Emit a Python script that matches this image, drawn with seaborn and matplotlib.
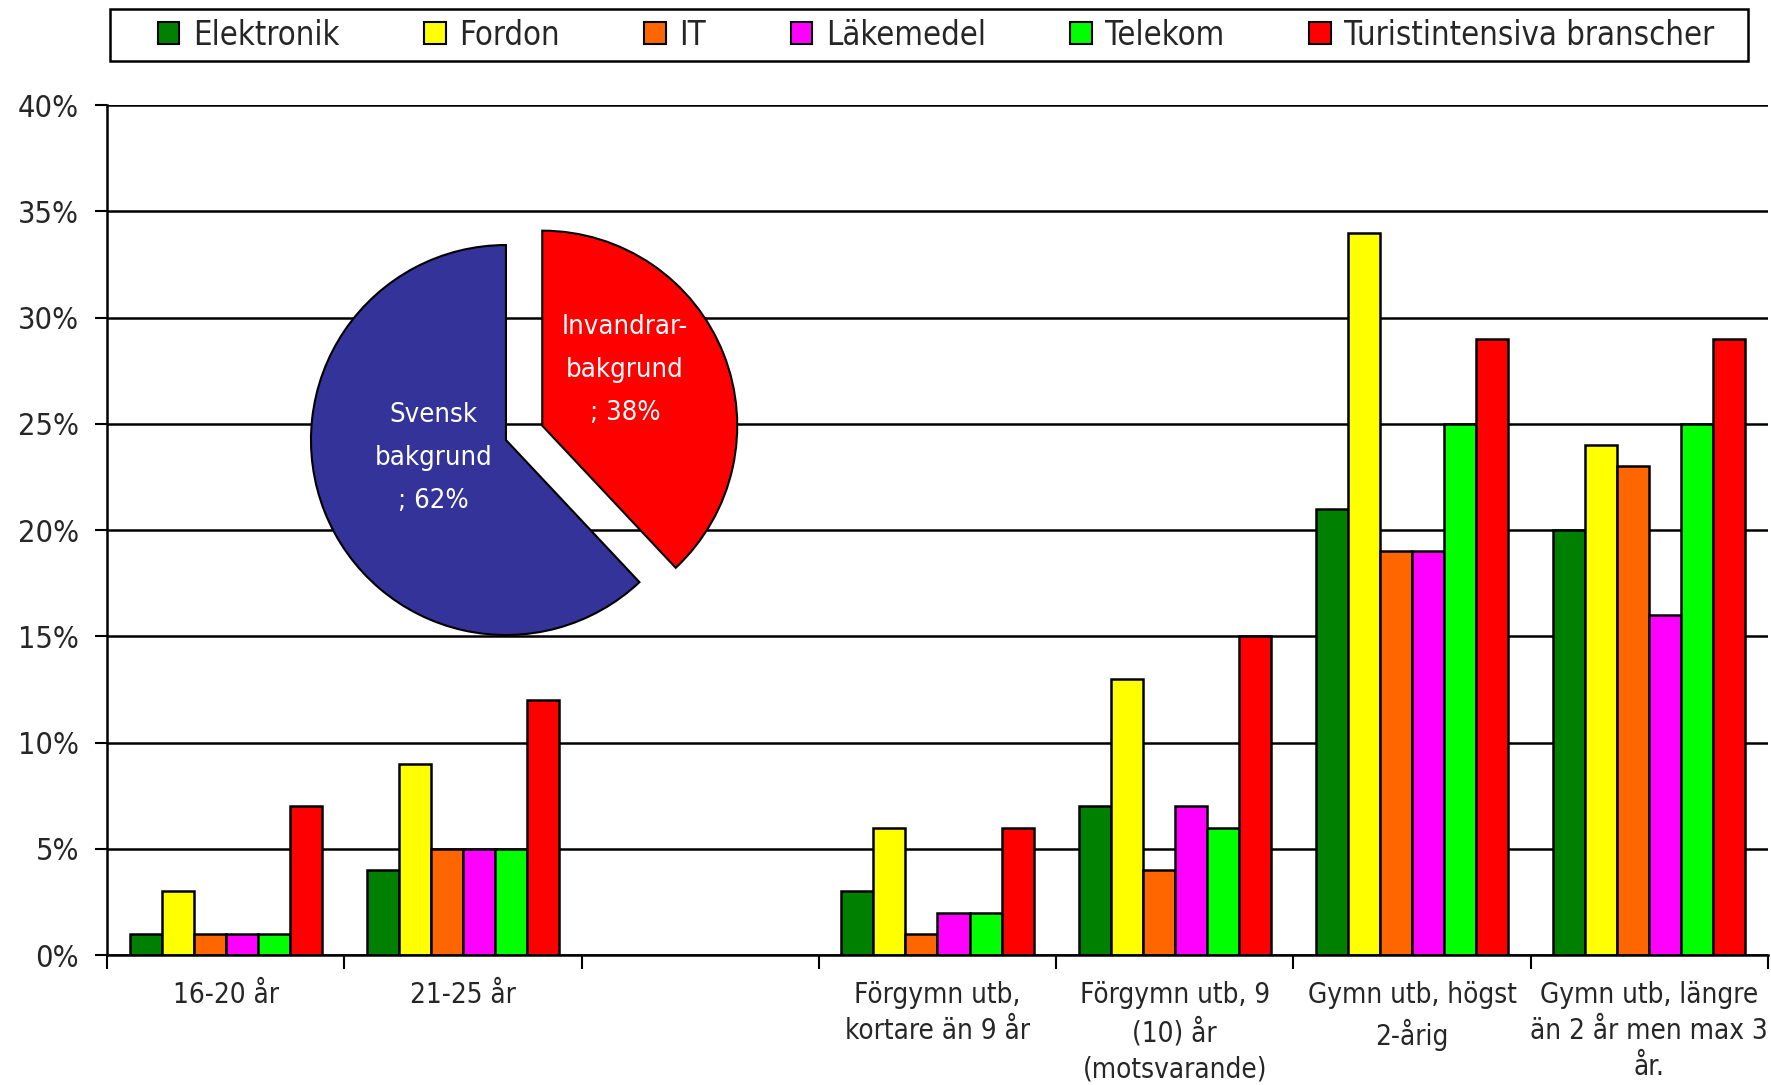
import numpy as np
import pandas as pd
import matplotlib
matplotlib.use('Agg')
import matplotlib.pyplot as plt
import seaborn as sns
from matplotlib import font_manager
from matplotlib.ticker import PercentFormatter, FixedLocator

sns.set_style('white')

# narrow font (the original uses Arial Narrow)
fonts = {(f.name, str(f.stretch)) for f in font_manager.fontManager.ttflist}
if any(n == 'Liberation Sans Narrow' for n, s in fonts):
    plt.rcParams['font.family'] = ['Liberation Sans Narrow', 'DejaVu Sans']
    k = 1.0
elif any(n == 'DejaVu Sans' and s == 'condensed' for n, s in fonts):
    plt.rcParams['font.family'] = ['DejaVu Sans']
    plt.rcParams['font.stretch'] = 'condensed'
    k = 1.0
else:
    plt.rcParams['font.family'] = ['Liberation Sans', 'DejaVu Sans']
    k = 0.9

# Data
categories = ['16-20 år', '21-25 år', ' ',
              'Förgymn utb,\nkortare än 9 år',
              'Förgymn utb, 9\n(10) år\n(motsvarande)',
              'Gymn utb, högst\n2-årig',
              'Gymn utb, längre\nän 2 år men max 3\når.']
series = ['Elektronik', 'Fordon', 'IT', 'Läkemedel', 'Telekom', 'Turistintensiva branscher']
colors = ['#008000', '#FFFF00', '#FF6600', '#FF00FF', '#00FF00', '#FF0000']
elektronik = [1, 4, None, 3, 7, 21, 20]
fordon = [3, 9, None, 6, 13, 34, 24]
it = [1, 5, None, 1, 4, 19, 23]
lakemedel = [1, 5, None, 2, 7, 19, 16]
telekom = [1, 5, None, 2, 6, 25, 25]
turist = [7, 12, None, 6, 15, 29, 29]

pie_labels = ['Svensk\nbakgrund\n; 62%', 'Invandrar-\nbakgrund\n; 38%']
pie_values = [62, 38]
pie_colors = ['#333399', '#FF0000']

rows = []
for name, vals in zip(series, [elektronik, fordon, it, lakemedel, telekom, turist]):
    for cat, v in zip(categories, vals):
        if v is not None:
            rows.append({'cat': cat, 'serie': name, 'val': v / 100})
df = pd.DataFrame(rows)

fig = plt.figure(figsize=(17.71, 10.85), dpi=100)
ax = fig.add_axes([0.0604, 0.1198, 0.9379, 0.7834])

sns.barplot(data=df, x='cat', y='val', hue='serie', order=categories, hue_order=series,
            palette=colors, saturation=1, width=0.81, edgecolor='black', linewidth=1.8, ax=ax,
            errorbar=None, legend=False)

ax.set_ylim(0, 0.4)
ax.set_xlim(-0.5, len(categories) - 0.5)
ax.yaxis.set_major_formatter(PercentFormatter(1.0, decimals=0))
ax.set_yticks(np.arange(0, 0.41, 0.05))
ax.yaxis.grid(True, color='black', linewidth=1.8)
ax.set_axisbelow(True)
ax.tick_params(axis='y', labelsize=22 * k, length=9, width=1.5, pad=11, left=True, color='black')

# ticks at group boundaries, labels centered
ax.xaxis.set_major_locator(FixedLocator(np.arange(-0.5, len(categories), 1)))
ax.xaxis.set_minor_locator(FixedLocator(np.arange(len(categories))))
ax.set_xticklabels([''] * (len(categories) + 1))
ax.set_xticklabels(categories, minor=True)
ax.tick_params(axis='x', which='major', length=10, width=1.5, bottom=True, color='black')
ax.tick_params(axis='x', which='minor', length=0, labelsize=20 * k, pad=19)
for t in ax.get_xticklabels(minor=True):
    t.set_linespacing(1.35)
    t.set_verticalalignment('top')

ax.set_xlabel('')
ax.set_ylabel('')
for s in ['top', 'right']:
    ax.spines[s].set_visible(False)
for s in ['left', 'bottom']:
    ax.spines[s].set_color('black')
    ax.spines[s].set_linewidth(1.8)

# legend (frame drawn separately, it has wide side margins)
handles = [plt.Rectangle((0, 0), 1, 1, facecolor=c, edgecolor='black', linewidth=1.5) for c in colors]
leg = fig.legend(handles, series, loc='center', bbox_to_anchor=(0.5287, 0.9677), ncol=6,
                 fontsize=23.6 * k, frameon=False,
                 handlelength=0.65, handleheight=0.65, handletextpad=0.42, columnspacing=2.58,
                 borderpad=0, borderaxespad=0)
fig.patches.append(plt.Rectangle((0.0621, 0.9438), 0.9249, 0.0479, transform=fig.transFigure,
                                 facecolor='white', edgecolor='black', linewidth=1.8, zorder=0))

# inset pie
pax = fig.add_axes([0.1389, 0.3548, 0.2936, 0.4793])
pax.set_facecolor('none')
pax.pie(pie_values, colors=pie_colors, startangle=90, counterclock=True,
        explode=[0, 0.2], wedgeprops={'edgecolor': 'black', 'linewidth': 1.5})
pax.set_xlim(-1.3333, 1.3333)
pax.set_ylim(-1.3333, 1.3333)
pax.set_aspect('equal')
pax.axis('off')
pax.text(-0.37, -0.09, pie_labels[0], color='white', ha='center', va='center',
         fontsize=19.7 * k, linespacing=1.85)
pax.text(0.61, 0.36, pie_labels[1], color='white', ha='center', va='center',
         fontsize=19.7 * k, linespacing=1.85)

fig.savefig('out.png', dpi=100)
